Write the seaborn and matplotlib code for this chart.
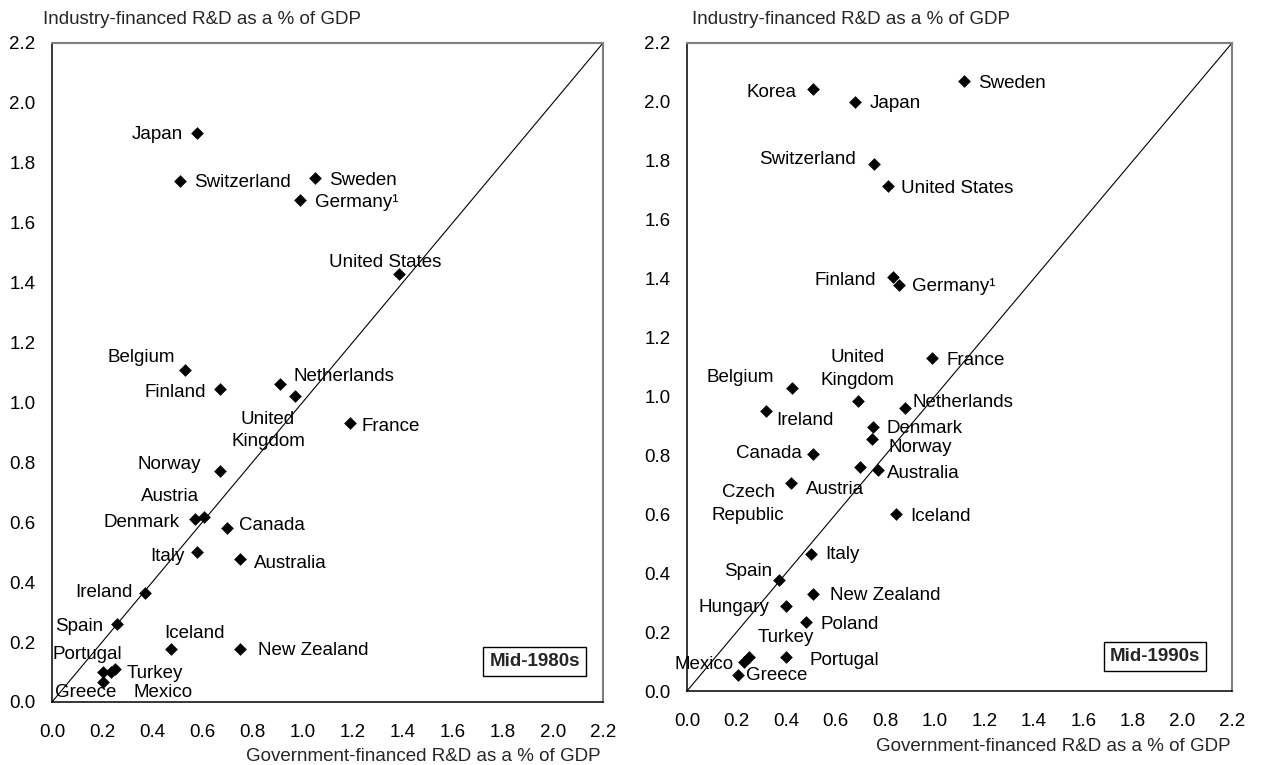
import matplotlib
matplotlib.use("Agg")
import matplotlib.pyplot as plt
import seaborn as sns
import pandas as pd

# ---- Mid-1980s: government- vs industry-financed R&D (% of GDP) ----
countries_80s = ["Japan", "Switzerland", "Sweden", "Germany\u00b9", "United States",
                 "Belgium", "Finland", "Netherlands", "United\nKingdom", "France",
                 "Norway", "Austria", "Denmark", "Canada", "Italy", "Australia",
                 "Ireland", "Spain", "Iceland", "New Zealand", "Portugal", "Turkey",
                 "Mexico", "Greece"]
gov_80s = [0.58, 0.51, 1.05, 0.99, 1.385, 0.53, 0.67, 0.91, 0.97, 1.19,
           0.67, 0.605, 0.57, 0.70, 0.58, 0.75, 0.37, 0.26, 0.475, 0.75,
           0.205, 0.25, 0.235, 0.205]
ind_80s = [1.90, 1.74, 1.75, 1.675, 1.43, 1.11, 1.045, 1.06, 1.02, 0.93,
           0.77, 0.617, 0.61, 0.58, 0.50, 0.476, 0.363, 0.26, 0.178, 0.178,
           0.10, 0.11, 0.10, 0.067]

# ---- Mid-1990s ----
countries_90s = ["Korea", "Japan", "Sweden", "Switzerland", "United States", "Finland",
                 "Germany\u00b9", "France", "United\nKingdom", "Belgium", "Ireland",
                 "Netherlands", "Denmark", "Norway", "Canada", "Australia", "Austria",
                 "Czech\nRepublic", "Iceland", "Italy", "Spain", "New Zealand",
                 "Hungary", "Poland", "Turkey", "Mexico", "Portugal", "Greece"]
gov_90s = [0.51, 0.68, 1.12, 0.755, 0.81, 0.83, 0.855, 0.99, 0.69, 0.425, 0.32,
           0.88, 0.75, 0.745, 0.51, 0.77, 0.70, 0.42, 0.845, 0.50, 0.37, 0.51,
           0.40, 0.48, 0.25, 0.23, 0.40, 0.205]
ind_90s = [2.045, 2.00, 2.07, 1.79, 1.715, 1.405, 1.38, 1.13, 0.985, 1.03, 0.95,
           0.96, 0.895, 0.855, 0.805, 0.75, 0.76, 0.705, 0.60, 0.465, 0.377, 0.33,
           0.287, 0.235, 0.117, 0.10, 0.117, 0.055]

x_ticks = [0.0, 0.2, 0.4, 0.6, 0.8, 1.0, 1.2, 1.4, 1.6, 1.8, 2.0, 2.2]
y_ticks = [0.0, 0.2, 0.4, 0.6, 0.8, 1.0, 1.2, 1.4, 1.6, 1.8, 2.0, 2.2]
x_title = "Government-financed R&D as a % of GDP"
y_title = "Industry-financed R&D as a % of GDP"

# label placement: (dx, dy, ha) in pixels from the marker, dy positive upwards,
# anchored at the baseline of the label's last line
place_80s = {
    "Japan": (-14, -6, "right"), "Switzerland": (14, -6, "left"),
    "Sweden": (14, -7, "left"), "Germany\u00b9": (15, -7, "left"),
    "United States": (-14, 7, "center"), "Belgium": (-10, 8, "right"),
    "Finland": (-14, -8, "right"), "Netherlands": (14, 3, "left"),
    "United\nKingdom": (-27, -50, "center"), "France": (11, -8, "left"),
    "Norway": (-19, 2, "right"), "Austria": (-4, 16, "right"),
    "Denmark": (-15, -8, "right"), "Canada": (12, -2, "left"),
    "Italy": (-13, -9, "right"), "Australia": (14, -9, "left"),
    "Ireland": (-12, -4, "right"), "Spain": (-14, -7, "right"),
    "Iceland": (-7, 11, "left"), "New Zealand": (18, -6, "left"),
    "Portugal": (-51, 13, "left"), "Turkey": (12, -9, "left"),
    "Mexico": (23, -25, "left"), "Greece": (-48, -15, "left"),
}
place_90s = {
    "Korea": (-17, -8, "right"), "Japan": (14, -6, "left"),
    "Sweden": (14, -7, "left"), "Switzerland": (-18, 0, "right"),
    "United States": (13, -7, "left"), "Finland": (-17, -8, "right"),
    "Germany\u00b9": (13, -6, "left"), "France": (14, -7, "left"),
    "United\nKingdom": (0, 16, "center"), "Belgium": (-18, 6, "right"),
    "Ireland": (10, -14, "left"), "Netherlands": (7, 1, "left"),
    "Denmark": (14, -6, "left"), "Norway": (17, -13, "left"),
    "Canada": (-11, -4, "right"), "Australia": (9, -8, "left"),
    "Austria": (-54, -27, "left"), "Czech\nRepublic": (-43, -37, "center"),
    "Iceland": (14, -7, "left"), "Italy": (14, -5, "left"),
    "Spain": (-6, 4, "right"), "New Zealand": (17, -6, "left"),
    "Hungary": (-17, -6, "right"), "Poland": (15, -7, "left"),
    "Turkey": (9, 15, "left"), "Mexico": (-10, -7, "right"),
    "Portugal": (23, -8, "left"), "Greece": (8, -5, "left"),
}

sns.set_theme(style="white")
plt.rcParams["font.family"] = ["Liberation Sans", "DejaVu Sans"]
FS = 13.5

W, H = 1261, 765
fig = plt.figure(figsize=(W / 100, H / 100), dpi=100)


def px_rect(left, top, right, bottom):
    return [left / W, 1 - bottom / H, (right - left) / W, (bottom - top) / H]


def panel(rect, countries, gov, ind, place, period, box_xy):
    ax = fig.add_axes(rect)
    df = pd.DataFrame({"country": countries, "gov": gov, "ind": ind})
    ax.axline((0, 0), slope=1, color="black", lw=0.8, zorder=2)
    sns.scatterplot(data=df, x="gov", y="ind", marker="D", color="black",
                    s=42, edgecolor="black", linewidth=0, ax=ax, zorder=3,
                    legend=False)
    for c, gx, gy in zip(countries, gov, ind):
        dx, dy, ha = place[c]
        ax.annotate(c, (gx, gy), xytext=(dx, dy), textcoords="offset pixels",
                    ha=ha, va="baseline", fontsize=FS, color="black",
                    multialignment="center", linespacing=1.45,
                    annotation_clip=False, clip_on=False)
    ax.set_xlim(0, 2.2)
    ax.set_ylim(0, 2.2)
    ax.set_xticks(x_ticks)
    ax.set_yticks(y_ticks)
    ax.set_xticklabels([f"{v:.1f}" for v in x_ticks])
    ax.set_yticklabels([f"{v:.1f}" for v in y_ticks])
    ax.set_xlabel("")
    ax.set_ylabel("")
    ax.tick_params(axis="both", direction="inout", length=9.5, width=1.0,
                   color="black", labelsize=FS, labelcolor="black")
    ax.tick_params(axis="x", pad=11)
    ax.tick_params(axis="y", pad=7)
    for s in ("left", "bottom"):
        ax.spines[s].set_color("black")
        ax.spines[s].set_linewidth(1.1)
    for s in ("top", "right"):
        ax.spines[s].set_color("#808080")
        ax.spines[s].set_linewidth(1.5)
    ax.text(box_xy[0], box_xy[1], period, transform=ax.transAxes,
            ha="center", va="center", fontsize=FS, fontweight="bold",
            bbox=dict(boxstyle="square,pad=0.32", fc="white", ec="black", lw=1.0),
            zorder=5)
    return ax


panel(px_rect(52, 43, 603, 702), countries_80s, gov_80s, ind_80s, place_80s,
      "Mid-1980s", (0.876, 0.061))
panel(px_rect(687, 43, 1232, 691), countries_90s, gov_90s, ind_90s, place_90s,
      "Mid-1990s", (0.859, 0.053))

# axis titles
fig.text(43 / W, 1 - 24.5 / H, y_title, fontsize=FS, ha="left", va="baseline")
fig.text(692 / W, 1 - 24.5 / H, y_title, fontsize=FS, ha="left", va="baseline")
fig.text(601 / W, 1 - 761 / H, x_title, fontsize=FS, ha="right", va="baseline")
fig.text(1231 / W, 1 - 751 / H, x_title, fontsize=FS, ha="right", va="baseline")

fig.savefig("out.png", dpi=100, facecolor="white")
